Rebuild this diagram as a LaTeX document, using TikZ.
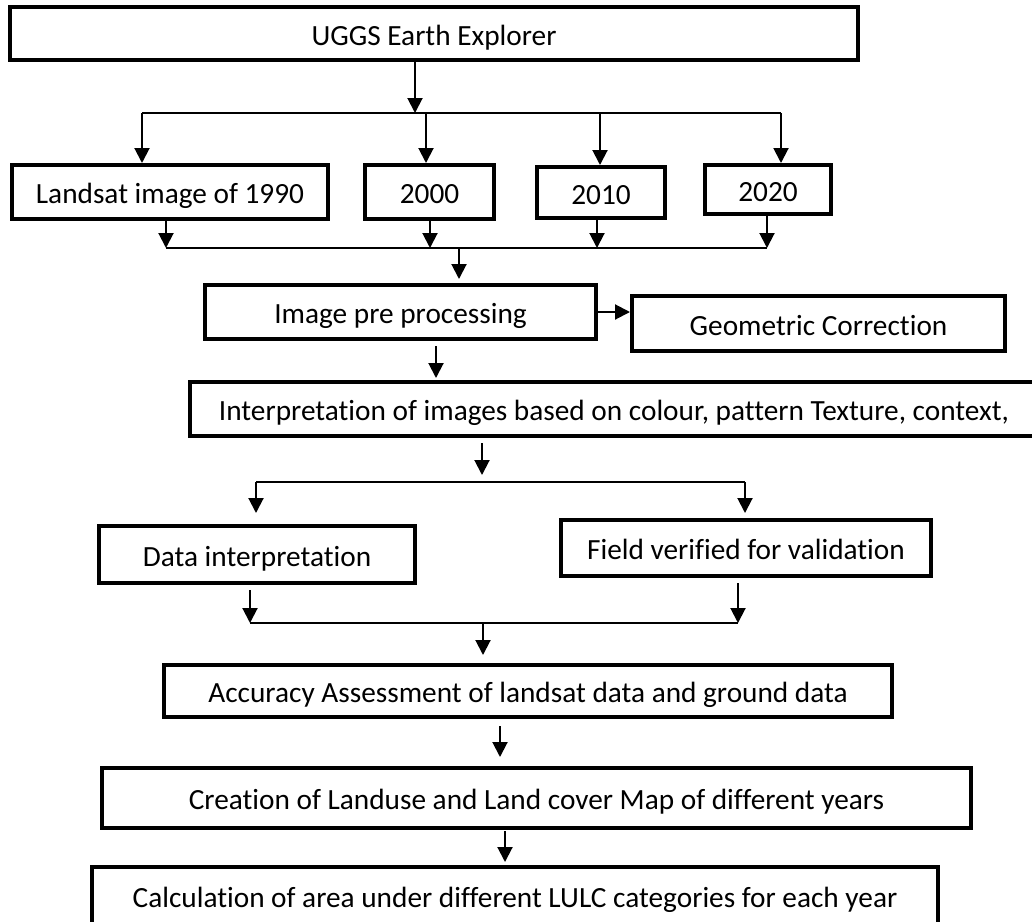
\documentclass[tikz,border=0pt]{standalone}
\usepackage{fontspec}
\setmainfont{Carlito}[Ligatures=NoCommon]
\usetikzlibrary{arrows.meta}
\begin{document}
\begin{tikzpicture}[x=1pt,y=-1pt,
  box/.style={draw,line width=4pt,inner sep=0pt,text height=23pt,text depth=0pt,
    font=\fontsize{29.3}{34}\selectfont},
  arr/.style={line width=2pt,-{Triangle[width=15pt,length=15pt]}},
  bus/.style={line width=2pt}]
\useasboundingbox (0,0) rectangle (1032,921);
\clip (0,0) rectangle (1032,921);
\node[box,minimum width=848pt,minimum height=53pt] (usgs) at (434,33.5) {UGGS Earth Explorer};
\node[box,minimum width=316pt,minimum height=54pt] (y90) at (170,192) {Landsat image of 1990};
\node[box,minimum width=129pt,minimum height=54pt] (y00) at (429.5,192) {2000};
\node[box,minimum width=128pt,minimum height=51pt] (y10) at (601,192.5) {2010};
\node[box,minimum width=126pt,minimum height=49pt] (y20) at (768,189.5) {2020};
\node[box,minimum width=391pt,minimum height=54pt] (pre) at (400.5,312) {Image pre processing};
\node[box,minimum width=373pt,minimum height=55pt] (geo) at (818.5,323.5) {Geometric Correction};
\node[box,minimum width=848pt,minimum height=54pt] (int) at (614,409) {Interpretation of images based on colour, pattern Texture, context,};
\node[box,minimum width=316pt,minimum height=57pt] (data) at (257,554.5) {Data interpretation};
\node[box,minimum width=370pt,minimum height=56pt] (field) at (746,548) {Field verified for validation};
\node[box,minimum width=728pt,minimum height=52pt] (acc) at (528,691) {Accuracy Assessment of landsat data and ground data};
\node[box,minimum width=869pt,minimum height=60pt] (map) at (536.5,798) {Creation of Landuse and Land cover Map of different years};
\node[box,minimum width=846pt,minimum height=58pt] (area) at (515,896) {Calculation of area under different LULC categories for each year};
\coordinate (t0) at (415,113);
\coordinate (t1) at (142,113);
\coordinate (t2) at (426,113);
\coordinate (t3) at (600,113);
\coordinate (t4) at (781,113);
\draw[arr] (usgs.south -| t0) -- (t0);
\draw[bus] (t1) -- (t4);
\foreach \t/\b in {t1/y90,t2/y00,t3/y10,t4/y20}
  \draw[arr] (\t) -- (\t |- \b.north);
\coordinate (c0) at (459,248);
\coordinate (c1) at (166,248);
\coordinate (c2) at (430,248);
\coordinate (c3) at (597,248);
\coordinate (c4) at (767,248);
\foreach \c/\b in {c1/y90,c2/y00,c3/y10,c4/y20}
  \draw[arr] (\c |- \b.south) -- (\c);
\draw[bus] (c1) -- (c4);
\draw[arr,shorten >=4pt] (c0) -- (c0 |- pre.north);
\draw[arr] (pre.east) -- (pre.east -| geo.west);
\draw[arr,shorten <=5pt,shorten >=2pt] ([xshift=35.5pt]pre.south) -- ([xshift=35.5pt]pre.south |- int.north);
\coordinate (m0) at (482,482);
\coordinate (m1) at (256,482);
\coordinate (m2) at (745,482);
\draw[arr,shorten <=5pt,shorten >=7pt] (int.south -| m0) -- (m0);
\draw[bus] (m1) -- (m2);
\draw[arr,shorten >=11pt] (m1) -- (m1 |- data.north);
\draw[arr,shorten >=5pt] (m2) -- (m2 |- field.north);
\coordinate (n0) at (483,623);
\coordinate (n1) at (250,623);
\coordinate (n2) at (738,623);
\draw[arr,shorten <=5pt] (data.south -| n1) -- (n1);
\draw[arr,shorten <=5pt] (field.south -| n2) -- (n2);
\draw[bus] (n1) -- (n2);
\draw[arr,shorten >=8pt] (n0) -- (n0 |- acc.north);
\draw[arr,shorten <=7pt,shorten >=9pt] ([xshift=-28pt]acc.south) -- ([xshift=-28pt]acc.south |- map.north);
\draw[arr,shorten <=1pt,shorten >=3pt] ([xshift=-31.5pt]map.south) -- ([xshift=-31.5pt]map.south |- area.north);
\end{tikzpicture}
\end{document}
